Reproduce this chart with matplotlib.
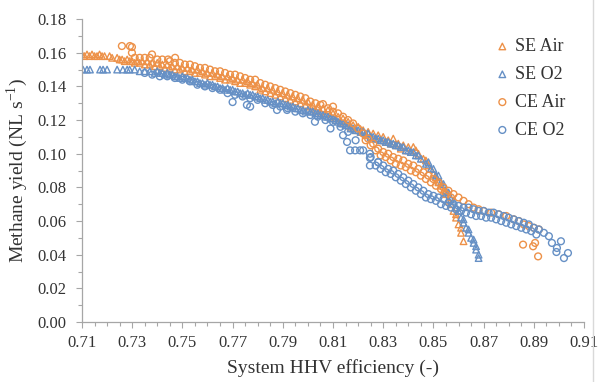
import matplotlib
matplotlib.use("Agg")
import matplotlib.pyplot as plt
from matplotlib.lines import Line2D
from matplotlib.ticker import MultipleLocator, FormatStrFormatter

plt.rcParams['font.family'] = ['Liberation Serif', 'DejaVu Serif']
plt.rcParams['mathtext.fontset'] = 'custom'
plt.rcParams['mathtext.rm'] = 'Liberation Serif'

x_ticks = [0.71, 0.73, 0.75, 0.77, 0.79, 0.81, 0.83, 0.85, 0.87, 0.89, 0.91]

# SE Air (orange triangles)
se_air_x = [0.710, 0.711, 0.712, 0.713, 0.714, 0.715, 0.716, 0.717, 0.718, 0.719,
            0.721, 0.722, 0.724, 0.726, 0.728, 0.730, 0.732, 0.734, 0.736, 0.738,
            0.740, 0.742, 0.744, 0.746, 0.748, 0.750, 0.752, 0.754, 0.756, 0.758,
            0.760, 0.762, 0.764, 0.766, 0.768, 0.770, 0.772, 0.774, 0.776, 0.778,
            0.780, 0.782, 0.784, 0.786, 0.788, 0.790, 0.792, 0.794, 0.796, 0.798,
            0.800, 0.802, 0.804, 0.806, 0.808, 0.810, 0.812, 0.814, 0.816, 0.818,
            0.820, 0.822, 0.824, 0.826, 0.828, 0.830, 0.832, 0.834, 0.836, 0.838,
            0.840, 0.842, 0.843, 0.844, 0.846, 0.848, 0.850, 0.852, 0.854, 0.856,
            0.858, 0.859, 0.860, 0.861, 0.862,
            0.725, 0.727, 0.729, 0.731, 0.733, 0.735, 0.737, 0.739, 0.741, 0.743,
            0.745, 0.747, 0.749, 0.751, 0.753, 0.755, 0.757, 0.759, 0.761, 0.763,
            0.765, 0.767, 0.769, 0.771, 0.773, 0.775, 0.777, 0.779, 0.781, 0.783,
            0.785, 0.787, 0.789, 0.791, 0.793, 0.795, 0.797, 0.799, 0.801, 0.803,
            0.805, 0.807, 0.809, 0.811, 0.813, 0.815, 0.817, 0.819, 0.821, 0.823,
            0.825, 0.827, 0.829, 0.831, 0.833, 0.835, 0.837, 0.839, 0.841,
            0.847, 0.849, 0.851, 0.853, 0.855, 0.857, 0.859, 0.861]
se_air_y = [0.159, 0.158, 0.159, 0.158, 0.159, 0.158, 0.158, 0.159, 0.158, 0.158,
            0.158, 0.157, 0.157, 0.156, 0.156, 0.155, 0.155, 0.155, 0.155, 0.154,
            0.154, 0.153, 0.153, 0.152, 0.152, 0.151, 0.151, 0.150, 0.150, 0.149,
            0.148, 0.148, 0.147, 0.146, 0.146, 0.145, 0.144, 0.144, 0.143, 0.142,
            0.141, 0.139, 0.139, 0.138, 0.137, 0.136, 0.135, 0.134, 0.133, 0.132,
            0.131, 0.129, 0.128, 0.127, 0.126, 0.124, 0.122, 0.121, 0.119, 0.117,
            0.116, 0.114, 0.113, 0.112, 0.111, 0.110, 0.108, 0.109, 0.106, 0.105,
            0.104, 0.104, 0.102, 0.100, 0.097, 0.093, 0.088, 0.083, 0.078, 0.072,
            0.066, 0.062, 0.058, 0.053, 0.048,
            0.156, 0.155, 0.155, 0.154, 0.154, 0.153, 0.153, 0.152, 0.152, 0.151,
            0.151, 0.150, 0.150, 0.149, 0.149, 0.148, 0.148, 0.147, 0.146, 0.146,
            0.145, 0.144, 0.144, 0.143, 0.142, 0.142, 0.141, 0.140, 0.138, 0.137,
            0.136, 0.135, 0.134, 0.133, 0.132, 0.131, 0.130, 0.129, 0.128, 0.126,
            0.125, 0.124, 0.122, 0.121, 0.119, 0.118, 0.116, 0.114, 0.113, 0.111,
            0.110, 0.109, 0.108, 0.107, 0.106, 0.105, 0.103, 0.102, 0.101,
            0.096, 0.091, 0.086, 0.081, 0.076, 0.070, 0.064, 0.056]

# SE O2 (blue triangles)
se_o2_x = [0.7104, 0.712, 0.7132, 0.7172, 0.7184, 0.720, 0.724, 0.7263, 0.728, 0.729,
           0.731, 0.733, 0.735, 0.737, 0.739, 0.741, 0.743, 0.745, 0.747, 0.749,
           0.751, 0.753, 0.755, 0.757, 0.759, 0.761, 0.763, 0.765, 0.767, 0.769,
           0.771, 0.773, 0.775, 0.777, 0.779, 0.781, 0.783, 0.785, 0.787, 0.789,
           0.791, 0.793, 0.795, 0.797, 0.799, 0.801, 0.803, 0.805, 0.807, 0.809,
           0.811, 0.813, 0.815, 0.817, 0.819, 0.821, 0.823, 0.825, 0.827, 0.829,
           0.831, 0.833, 0.835, 0.837, 0.839, 0.841, 0.843, 0.845, 0.847, 0.849,
           0.851, 0.853, 0.855, 0.857, 0.859, 0.861, 0.862, 0.863, 0.864, 0.865,
           0.866, 0.867, 0.868, 0.868,
           0.740, 0.742, 0.744, 0.746, 0.748, 0.750, 0.752, 0.754, 0.756, 0.758,
           0.760, 0.762, 0.764, 0.766, 0.768, 0.770, 0.772, 0.774, 0.776, 0.778,
           0.780, 0.782, 0.784, 0.786, 0.788, 0.790, 0.792, 0.794, 0.796, 0.798,
           0.800, 0.802, 0.804, 0.806, 0.808, 0.810, 0.812, 0.814, 0.816, 0.818,
           0.820, 0.822, 0.824, 0.826, 0.828, 0.830, 0.832, 0.834, 0.836, 0.838,
           0.840, 0.842, 0.844,
           0.848, 0.850, 0.852, 0.854, 0.856, 0.858, 0.860, 0.862, 0.864, 0.866,
           0.867]
se_o2_y = [0.150, 0.150, 0.150, 0.150, 0.150, 0.150, 0.150, 0.150, 0.150, 0.150,
           0.150, 0.149, 0.149, 0.149, 0.148, 0.148, 0.147, 0.147, 0.146, 0.145,
           0.145, 0.144, 0.143, 0.142, 0.141, 0.141, 0.140, 0.139, 0.138, 0.138,
           0.137, 0.136, 0.135, 0.135, 0.134, 0.133, 0.132, 0.131, 0.130, 0.130,
           0.129, 0.128, 0.127, 0.126, 0.125, 0.125, 0.124, 0.123, 0.122, 0.121,
           0.120, 0.118, 0.117, 0.115, 0.114, 0.113, 0.112, 0.110, 0.109, 0.108,
           0.107, 0.106, 0.105, 0.104, 0.102, 0.101, 0.099, 0.097, 0.094, 0.091,
           0.087, 0.083, 0.078, 0.073, 0.068, 0.062, 0.059, 0.056, 0.053, 0.050,
           0.047, 0.043, 0.040, 0.038,
           0.149, 0.148, 0.148, 0.147, 0.146, 0.146, 0.145, 0.144, 0.143, 0.142,
           0.142, 0.141, 0.140, 0.139, 0.139, 0.138, 0.137, 0.136, 0.136, 0.135,
           0.134, 0.133, 0.132, 0.131, 0.131, 0.130, 0.129, 0.128, 0.127, 0.126,
           0.126, 0.125, 0.124, 0.123, 0.122, 0.121, 0.119, 0.118, 0.117, 0.115,
           0.114, 0.113, 0.112, 0.110, 0.109, 0.108, 0.107, 0.106, 0.105, 0.104,
           0.102, 0.101, 0.099,
           0.095, 0.091, 0.087, 0.082, 0.077, 0.072, 0.066, 0.061, 0.055, 0.049,
           0.045]

# CE Air (orange circles)
ce_air_x = [0.7259, 0.7291, 0.7299, 0.7299, 0.7379, 0.7443, 0.7471,
            0.731, 0.733, 0.735, 0.737, 0.740, 0.742, 0.745, 0.747, 0.749, 0.751,
            0.753, 0.755, 0.757, 0.759, 0.761, 0.763, 0.765, 0.767, 0.769, 0.771,
            0.773, 0.775, 0.777, 0.779, 0.781, 0.783, 0.785, 0.787, 0.789, 0.791,
            0.793, 0.795, 0.797, 0.799, 0.801, 0.803, 0.806, 0.810, 0.805, 0.808,
            0.810, 0.812, 0.814, 0.816, 0.818, 0.820, 0.822, 0.824, 0.826, 0.828,
            0.830, 0.832, 0.834, 0.836, 0.838, 0.840, 0.842, 0.844, 0.846, 0.848,
            0.850, 0.852, 0.854, 0.856, 0.858, 0.860, 0.862, 0.864, 0.866, 0.868,
            0.870, 0.873, 0.876, 0.879, 0.882, 0.884, 0.886, 0.888, 0.890, 0.892,
            0.8857, 0.8897, 0.8905, 0.8917,
            0.823, 0.825, 0.827, 0.829, 0.831, 0.833, 0.835, 0.837, 0.839, 0.841,
            0.843, 0.845, 0.847, 0.849, 0.851, 0.853, 0.855, 0.857]
ce_air_y = [0.164, 0.164, 0.1634, 0.160, 0.159, 0.156, 0.157,
            0.157, 0.157, 0.157, 0.157, 0.156, 0.156, 0.155, 0.154, 0.154, 0.153,
            0.153, 0.152, 0.151, 0.151, 0.150, 0.149, 0.149, 0.148, 0.147, 0.147,
            0.146, 0.145, 0.144, 0.144, 0.142, 0.141, 0.140, 0.139, 0.138, 0.137,
            0.136, 0.135, 0.134, 0.133, 0.131, 0.130, 0.1295, 0.128, 0.129, 0.127,
            0.125, 0.124, 0.122, 0.120, 0.118, 0.115, 0.112, 0.109, 0.106, 0.103,
            0.101, 0.100, 0.098, 0.097, 0.096, 0.094, 0.093, 0.091, 0.089, 0.087,
            0.085, 0.083, 0.080, 0.078, 0.076, 0.074, 0.072, 0.070, 0.068, 0.067,
            0.066, 0.065, 0.064, 0.063, 0.061, 0.060, 0.058, 0.057, 0.056, 0.055,
            0.046, 0.045, 0.047, 0.039,
            0.108, 0.105, 0.102, 0.099, 0.098, 0.096, 0.094, 0.093, 0.092, 0.090,
            0.089, 0.087, 0.085, 0.083, 0.081, 0.079, 0.076, 0.074]

# CE O2 (blue circles)
ce_o2_x = [0.735, 0.738, 0.741, 0.744, 0.747, 0.750, 0.753, 0.756, 0.759, 0.762,
           0.765, 0.768, 0.771, 0.774, 0.777, 0.780, 0.783, 0.786, 0.789, 0.792,
           0.795, 0.798, 0.801, 0.804, 0.807, 0.810,
           0.770, 0.7757, 0.777, 0.7877, 0.7917,
           0.8028, 0.809, 0.814, 0.8156, 0.8168, 0.8188, 0.8208, 0.8247, 0.8247,
           0.8247, 0.828,
           0.813, 0.816, 0.819, 0.822, 0.825, 0.828, 0.830, 0.832, 0.834, 0.836,
           0.838, 0.840, 0.842, 0.844, 0.846, 0.848, 0.850, 0.852, 0.854, 0.856,
           0.858, 0.860, 0.862, 0.864, 0.866, 0.868, 0.870, 0.872, 0.874, 0.876,
           0.878, 0.880, 0.882, 0.884, 0.886, 0.888, 0.890, 0.892, 0.894, 0.896,
           0.8972, 0.8992, 0.899, 0.9008, 0.902, 0.9036,
           0.827, 0.829, 0.831, 0.833, 0.835, 0.837, 0.839, 0.841, 0.843, 0.845,
           0.847, 0.849, 0.851, 0.853, 0.855, 0.857, 0.859, 0.861, 0.863, 0.865,
           0.867, 0.869, 0.871, 0.873, 0.875, 0.877, 0.879, 0.881, 0.883, 0.885,
           0.887, 0.889, 0.891]
ce_o2_y = [0.148, 0.147, 0.146, 0.146, 0.145, 0.144, 0.143, 0.141, 0.140, 0.139,
           0.138, 0.136, 0.135, 0.134, 0.133, 0.132, 0.130, 0.129, 0.128, 0.127,
           0.125, 0.124, 0.123, 0.122, 0.120, 0.119,
           0.1307, 0.129, 0.128, 0.126, 0.126,
           0.119, 0.115, 0.111, 0.107, 0.102, 0.102, 0.102, 0.100, 0.0975,
           0.093, 0.095,
           0.116, 0.113, 0.108, 0.102, 0.098, 0.095, 0.093, 0.091, 0.090, 0.088,
           0.086, 0.084, 0.082, 0.080, 0.078, 0.076, 0.075, 0.074, 0.073, 0.071,
           0.070, 0.069, 0.068, 0.068, 0.067, 0.066, 0.066, 0.065, 0.065, 0.064,
           0.063, 0.062, 0.061, 0.060, 0.059, 0.058, 0.056, 0.055, 0.053, 0.051,
           0.047, 0.044, 0.0416, 0.048, 0.038, 0.041,
           0.093, 0.091, 0.089, 0.088, 0.086, 0.084, 0.082, 0.080, 0.078, 0.076,
           0.074, 0.073, 0.072, 0.070, 0.069, 0.068, 0.067, 0.066, 0.065, 0.064,
           0.063, 0.063, 0.062, 0.062, 0.061, 0.060, 0.059, 0.058, 0.057, 0.056,
           0.055, 0.054, 0.052]

orange = '#ED9148'
blue = '#6690C5'
text_col = '#333333'
axis_col = '#A6A6A6'

fig = plt.figure(figsize=(6.09, 3.82), dpi=100)
ax = fig.add_axes([0.1346, 0.157, 0.8244, 0.793])

ax.scatter(se_air_x, se_air_y, marker='^', s=22, facecolors='none',
           edgecolors=orange, linewidths=1.0, label='SE Air')
ax.scatter(se_o2_x, se_o2_y, marker='^', s=22, facecolors='none',
           edgecolors=blue, linewidths=1.0, label='SE O2')
ax.scatter(ce_air_x, ce_air_y, marker='o', s=24, facecolors='none',
           edgecolors=orange, linewidths=1.0, label='CE Air')
ax.scatter(ce_o2_x, ce_o2_y, marker='o', s=24, facecolors='none',
           edgecolors=blue, linewidths=1.0, label='CE O2')

ax.set_xlim(0.71, 0.91)
ax.set_ylim(0, 0.18)
ax.set_xticks(x_ticks)
ax.xaxis.set_minor_locator(MultipleLocator(0.005))
ax.yaxis.set_major_locator(MultipleLocator(0.02))
ax.yaxis.set_minor_locator(MultipleLocator(0.01))
ax.xaxis.set_major_formatter(FormatStrFormatter('%.2f'))
ax.yaxis.set_major_formatter(FormatStrFormatter('%.2f'))

for s in ['top', 'right']:
    ax.spines[s].set_visible(False)
for s in ['left', 'bottom']:
    ax.spines[s].set_color(axis_col)
    ax.spines[s].set_linewidth(0.9)

ax.tick_params(which='major', direction='out', length=4, width=0.8,
               color=axis_col, labelsize=12, labelcolor=text_col)
ax.tick_params(which='minor', direction='out', length=3, width=0.8, color=axis_col)
ax.tick_params(axis='y', which='major', pad=7)
ax.tick_params(axis='x', which='major', pad=5)

ax.set_xlabel('System HHV efficiency (-)', fontsize=14, color=text_col, labelpad=6)
ax.set_ylabel(r'Methane yield (NL s$^{-1}$)', fontsize=14, color=text_col, labelpad=5)

fig.legend(loc='upper left', bbox_to_anchor=(0.813, 0.90), frameon=False,
           fontsize=13, handlelength=0.8, handletextpad=0.3, labelspacing=0.6,
           borderpad=0, borderaxespad=0, labelcolor=text_col, scatterpoints=1)

# outer chart border on the right
fig.add_artist(Line2D([0.9737, 0.9737], [0, 1], transform=fig.transFigure,
                      color='#D9D9D9', linewidth=1))

fig.savefig('out.png', dpi=100)
